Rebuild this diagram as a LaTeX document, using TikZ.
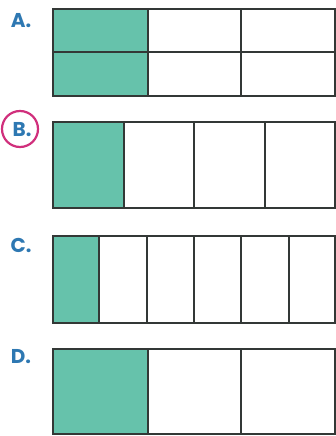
\documentclass[tikz,border=0pt]{standalone}
\usepackage{fontspec}
\setmainfont{Poppins}
\definecolor{fillc}{HTML}{66C2AB}
\definecolor{linec}{HTML}{333836}
\definecolor{labc}{HTML}{2E78B2}
\definecolor{ringc}{HTML}{D02F7C}
\begin{document}
\begin{tikzpicture}[x=1pt,y=-1pt,
  bar/.style={draw=linec, line width=2.2pt},
  lab/.style={text=labc, font=\fontsize{20}{20}\selectfont\bfseries, inner sep=0pt}]
\useasboundingbox (0,0) rectangle (336,436);
% A
\fill[fillc] (53,9) rectangle (148,96);
\draw[bar] (53,9) rectangle (335,96);
\draw[bar] (53,52) -- (335,52);
\foreach \x in {148,241} \draw[bar] (\x,9) -- (\x,96);
\node[lab] (la) at (21,21) {A.};
% B
\fill[fillc] (53,122) rectangle (124,208);
\draw[bar] (53,122) rectangle (335,208);
\foreach \x in {124,194,265} \draw[bar] (\x,122) -- (\x,208);
\node[lab] (lb) at (22,130) {B.};
\draw[ringc, line width=2.2pt] (20,129) circle (18);
% C
\fill[fillc] (53,236) rectangle (99,323);
\draw[bar] (53,236) rectangle (335,323);
\foreach \x in {99,147,194,241,289} \draw[bar] (\x,236) -- (\x,323);
\node[lab] (lc) at (21,245) {C.};
% D
\fill[fillc] (53,349) rectangle (148,434);
\draw[bar] (53,349) rectangle (335,434);
\foreach \x in {148,241} \draw[bar] (\x,349) -- (\x,434);
\node[lab] (ld) at (21,357) {D.};
\end{tikzpicture}
\end{document}
